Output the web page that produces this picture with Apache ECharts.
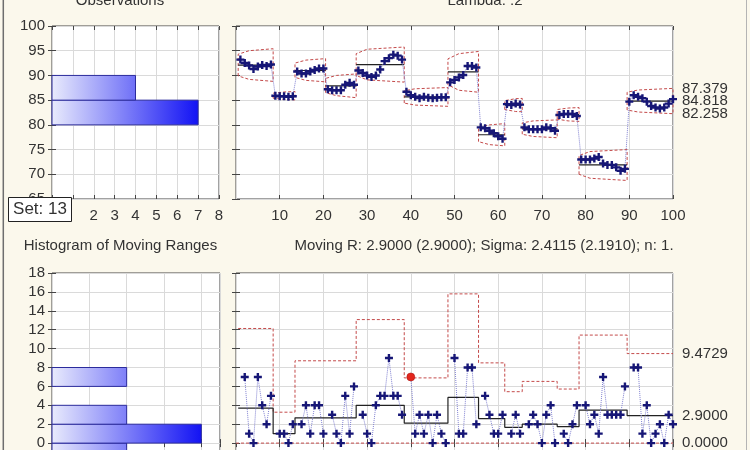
<!DOCTYPE html>
<html><head><meta charset="utf-8">
<script src="https://cdn.jsdelivr.net/npm/echarts@6/dist/echarts.min.js"></script>
<style>html,body{margin:0;padding:0;background:#FBF8EC;overflow:hidden;width:750px;height:450px}#c{width:750px;height:480px}</style>
</head><body><div id="c"></div>
<script>
// ---------------- DATA ----------------
const titleObs = 'Observations';
const titleEwma = 'Lambda: .2';
const titleMrHist = 'Histogram of Moving Ranges';
const titleMr = 'Moving R: 2.9000 (2.9000); Sigma: 2.4115 (2.1910); n: 1.';
const setLabel = 'Set: 13';

const setEnds = [8, 13, 20, 27, 38, 48, 55, 61, 65, 73, 78, 89, 100];

const ewma = [
  93.2, 92.5, 92.0, 91.3, 91.8, 92.1, 91.9, 92.2,
  85.9, 85.8, 85.8, 85.7, 85.8,
  90.8, 90.4, 90.4, 90.8, 91.1, 91.4, 91.4,
  87.2, 87.0, 87.0, 87.0, 88.1, 88.5, 88.1,
  91.0, 90.5, 90.0, 89.7, 90.0, 91.2, 92.9, 93.5, 94.2, 94.0, 93.2,
  86.7, 86.0, 85.7, 85.4, 85.7, 85.5, 85.4, 85.5, 85.6, 85.6,
  88.6, 89.1, 89.6, 90.1, 91.9, 91.9, 91.6,
  79.5, 79.3, 78.8, 78.3, 77.7, 77.2,
  84.2, 84.0, 84.3, 84.1,
  79.5, 79.1, 79.1, 79.1, 79.1, 79.5, 79.3, 78.8,
  82.0, 82.2, 82.2, 82.2, 81.8,
  73.0, 73.0, 73.0, 73.2, 73.5, 72.2, 71.9, 71.9, 71.4, 70.7, 71.1,
  84.7, 86.0, 85.7, 85.4, 84.7, 83.8, 83.5, 83.3, 83.5, 84.3, 85.2
];
const ewmaCL       = [92.1, 85.9, 91.0, 87.9, 92.2, 85.65, 90.7, 78.0, 84.0, 79.2, 82.1, 71.9, 84.818];
const ewmaUclStart = [94.3, 86.4, 92.5, 89.4, 94.4, 86.9, 93.35, 79.5, 84.9, 80.4, 83.1, 73.8, 86.6];
const ewmaUclKnee  = [95.0, 86.65, 93.1, 90.0, 95.3, 87.3, 94.4, 80.0, 85.3, 80.8, 83.4, 74.6, 87.05];
const ewmaUclEnd   = [95.4, 86.75, 93.4, 90.3, 95.75, 87.55, 94.85, 80.25, 85.35, 81.0, 83.5, 75.0, 87.379];
const ewmaLclStart = [89.9, 85.4, 89.6, 86.5, 90.0, 84.4, 88.1, 76.6, 83.1, 78.1, 81.15, 70.0, 83.0];
const ewmaLclKnee  = [89.2, 85.15, 89.0, 85.9, 89.1, 84.0, 87.0, 76.0, 82.7, 77.65, 80.8, 69.2, 82.6];
const ewmaLclEnd   = [88.8, 85.05, 88.7, 85.5, 88.65, 83.75, 86.6, 75.75, 82.65, 77.4, 80.7, 68.75, 82.258];
const ewmaRightLabels = ['87.379', '84.818', '82.258'];

const mrValues = [
  null, 7, 1, 0, 7, 4, 2, 5,
  null, 1, 1, 0, 2,
  null, 2, 4, 1, 4, 4, 1,
  null, 3, 1, 0, 5, 1, 6,
  null, 3, 1, 0, 4, 5, 5, 9, 5, 5, 3,
  null, 7, 1, 3, 1, 3, 0, 3, 1, 0,
  null, 9, 1, 1, 8, 8, 2,
  null, 5, 3, 1, 1, 3,
  null, 1, 3, 1,
  null, 2, 3, 2, 0, 3, 4, 0,
  null, 1, 0, 2, 4,
  null, 4, 2, 3, 1, 7, 3, 3, 3, 3, 6,
  null, 8, 8, 1, 4, 0, 1, 2, 0, 3, 2
];
const mrCL  = [3.71, 1.0, 2.67, 2.67, 4.0, 2.11, 4.83, 2.6, 1.67, 2.0, 1.75, 3.5, 2.9];
const mrUCL = [12.13, 3.27, 8.71, 8.71, 13.07, 6.9, 15.79, 8.49, 5.44, 6.53, 5.72, 11.43, 9.4729];
const mrLCL = 0;
const mrRightLabels = ['9.4729', '2.9000', '0.0000'];

const obsBinLow = [80, 85];
const obsBinWidth = 5;
const obsCounts = [7, 4];
const obsCountTicks = [2, 3, 4, 5, 6, 7, 8];

const mrBinLow = [-2, 0, 2, 4, 6];
const mrBinWidth = 2;
const mrCounts = [2, 4, 2, 0, 2];

// ---------------- STYLE ----------------
const FONT = '"Liberation Sans", Arial, Helvetica, sans-serif';
const TXT = '#333333';
const RED = '#c44a4a';
const PLUS = 'path://M3.5 0H6.5V3.5H10V6.5H6.5V10H3.5V6.5H0V3.5H3.5Z';

function mix(a, b, f) {
  const pa = [1,3,5].map(i => parseInt(a.substr(i,2),16));
  const pb = [1,3,5].map(i => parseInt(b.substr(i,2),16));
  return 'rgb(' + pa.map((v,i) => Math.round(v + (pb[i]-v)*f)).join(',') + ')';
}
function histRender(maxN) {
  return function (params, api) {
    const lo = api.value(0), hi = api.value(1), n = api.value(2);
    if (!n) return null;
    const a = api.coord([0, hi]), b = api.coord([n, lo]);
    return {
      type: 'rect',
      shape: { x: a[0], y: a[1], width: b[0] - a[0], height: b[1] - a[1] },
      style: {
        fill: new echarts.graphic.LinearGradient(0, 0, 1, 0, [
          { offset: 0, color: '#e9ebfc' },
          { offset: 1, color: mix('#e9ebfc', '#1212f4', n / maxN) }
        ]),
        stroke: '#2b2b9c', lineWidth: 1
      }
    };
  };
}

const gridsPx = [
  { left: 52, top: 26, width: 167, height: 173 },
  { left: 236, top: 26, width: 437, height: 173 },
  { left: 52, top: 273, width: 168, height: 189 },
  { left: 236, top: 273, width: 437, height: 189 }
];
const grids = gridsPx.map(g => Object.assign({
  show: true, backgroundColor: '#ffffff', borderColor: '#454545', borderWidth: 1,
  containLabel: false, outerBoundsMode: 'none'
}, g));

const lbl = { color: TXT, fontSize: 15, fontFamily: FONT };
function axis(extra, showLabel, showSplit) {
  return Object.assign({
    type: 'value',
    axisLine: { show: false },
    axisTick: { show: true, inside: true, length: 4, lineStyle: { color: '#454545' } },
    splitLine: { show: showSplit, lineStyle: { color: '#dadada', width: 1 } },
    axisLabel: Object.assign({ show: showLabel }, lbl)
  }, extra);
}
const xRanges = [
  { min: 0, max: 8, interval: 1 },
  { min: 0, max: 100, interval: 10 },
  { min: 0, max: 4.5, interval: 1 },
  { min: 0, max: 100, interval: 10 }
];
const yRanges = [
  { min: 65, max: 100, interval: 5 },
  { min: 65, max: 100, interval: 5 },
  { min: -2, max: 18, interval: 2 },
  { min: -2, max: 18, interval: 2 }
];
const xAxes = [], yAxes = [];
xRanges.forEach((r, i) => {
  const extra = Object.assign({ gridIndex: i, position: 'bottom' }, r);
  const a = axis(extra, i !== 2, true);
  a.axisLabel.margin = 9;
  if (i === 0) a.axisLabel.formatter = v => obsCountTicks.includes(v) ? String(v) : '';
  if (i === 1 || i === 3) a.axisLabel.showMinLabel = false;
  xAxes.push(a);
});
yRanges.forEach((r, i) => {
  const extra = Object.assign({ gridIndex: i, position: 'left' }, r);
  const a = axis(extra, i === 0 || i === 2, true);
  a.axisLabel.margin = 7;
  yAxes.push(a);
});
// mirror axes for ticks on top/right
xRanges.forEach((r, i) => xAxes.push(axis(Object.assign({ gridIndex: i, position: 'top' }, r), false, false)));
yRanges.forEach((r, i) => yAxes.push(axis(Object.assign({ gridIndex: i, position: 'right' }, r), false, false)));

// ---------------- SERIES ----------------
const series = [];
series.push({
  type: 'custom', xAxisIndex: 0, yAxisIndex: 0, renderItem: histRender(Math.max(...obsCounts)),
  encode: { x: 2, y: [0, 1] },
  data: obsBinLow.map((lo, k) => [lo, lo + obsBinWidth, obsCounts[k]]), z: 3
});
series.push({
  type: 'custom', xAxisIndex: 2, yAxisIndex: 2, renderItem: histRender(Math.max(...mrCounts)),
  encode: { x: 2, y: [0, 1] },
  data: mrBinLow.map((lo, k) => [lo, lo + mrBinWidth, mrCounts[k]]), z: 3
});

const dash = { color: RED, width: 1, type: [3, 2] };
const mrUclStep = [], mrClStep = [];
setEnds.forEach((e, k) => {
  const s = k === 0 ? 1 : setEnds[k - 1] + 1;
  const x0 = s - 0.5, xk = Math.min(s + 2, e), x1 = Math.min(e + 0.5, 100);
  series.push({
    type: 'line', xAxisIndex: 1, yAxisIndex: 1, symbol: 'none', silent: true, z: 2,
    lineStyle: dash,
    data: [[x0, ewmaLclStart[k]], [x0, ewmaUclStart[k]], [xk, ewmaUclKnee[k]], [x1, ewmaUclEnd[k]],
           [x1, ewmaLclEnd[k]], [xk, ewmaLclKnee[k]], [x0, ewmaLclStart[k]]]
  });
  series.push({
    type: 'line', xAxisIndex: 1, yAxisIndex: 1, symbol: 'none', silent: true, z: 3,
    lineStyle: { color: '#222222', width: 1.2 },
    data: [[x0, ewmaCL[k]], [x1, ewmaCL[k]]]
  });
  mrUclStep.push([x0, mrUCL[k]], [x1, mrUCL[k]]);
  mrClStep.push([x0, mrCL[k]], [x1, mrCL[k]]);
});

const markLbl = (labels) => ({
  silent: true, symbol: ['none', 'none'], animation: false,
  lineStyle: { color: 'rgba(0,0,0,0)', width: 0 },
  label: { show: true, position: 'end', distance: 9, color: TXT, fontSize: 15, fontFamily: FONT },
  data: labels.map(t => ({ yAxis: parseFloat(t), label: { formatter: t } }))
});

series.push({
  type: 'line', xAxisIndex: 1, yAxisIndex: 1, z: 5,
  symbol: PLUS, symbolSize: 8, showAllSymbol: true,
  itemStyle: { color: '#161676' },
  lineStyle: { color: '#8282d2', width: 1, type: 'dotted' },
  data: ewma.map((v, i) => [i + 1, v]),
  markLine: markLbl(ewmaRightLabels)
});

series.push({
  type: 'line', xAxisIndex: 3, yAxisIndex: 3, symbol: 'none', silent: true, z: 2,
  lineStyle: dash, data: mrUclStep
});
series.push({
  type: 'line', xAxisIndex: 3, yAxisIndex: 3, symbol: 'none', silent: true, z: 2,
  lineStyle: dash, data: [[0, mrLCL], [100, mrLCL]]
});
series.push({
  type: 'line', xAxisIndex: 3, yAxisIndex: 3, symbol: 'none', silent: true, z: 3,
  lineStyle: { color: '#222222', width: 1.2 }, data: mrClStep
});

function setOf(i) { return setEnds.findIndex(e => i <= e); }
series.push({
  type: 'line', xAxisIndex: 3, yAxisIndex: 3, z: 5, connectNulls: false,
  symbol: PLUS, symbolSize: 8, showAllSymbol: true,
  itemStyle: { color: '#161676' },
  lineStyle: { color: '#8282d2', width: 1, type: 'dotted' },
  data: mrValues.map((v, i) => {
    if (v === null) return [i + 1, '-'];
    const k = setOf(i + 1);
    if (v > mrUCL[k]) return { value: [i + 1, v], symbol: 'circle', symbolSize: 8, itemStyle: { color: '#e3261c', borderColor: '#a01010', borderWidth: 0.5 } };
    return [i + 1, v];
  }),
  markLine: markLbl(mrRightLabels)
});

// ---------------- GRAPHICS ----------------
const tfont = '15px ' + FONT;
function txt(text, x, y, font) {
  return { type: 'text', x: x, y: y, z: 100,
    style: { text: text, fill: TXT, font: font || tfont, textAlign: 'center', textVerticalAlign: 'middle', align: 'center', verticalAlign: 'middle' } };
}
const graphic = [
  txt(titleObs, 120, 0.5),
  txt(titleEwma, 485, 0.5),
  txt(titleMrHist, 120.5, 245.5),
  txt(titleMr, 484, 245.5),
  { type: 'rect', z: 100, shape: { x: 8.5, y: 197.5, width: 63, height: 24 }, style: { fill: '#ffffff', stroke: '#222222', lineWidth: 1 } },
  txt(setLabel, 40, 209.5, '17px ' + FONT),
  { type: 'line', z: 100, shape: { x1: 3.3, y1: 0, x2: 3.3, y2: 480 }, style: { stroke: '#6e6e6e', lineWidth: 1.5 } },
  { type: 'line', z: 100, shape: { x1: 746.5, y1: 0, x2: 746.5, y2: 480 }, style: { stroke: '#b4b4b4', lineWidth: 1 } }
];

const chart = echarts.init(document.getElementById('c'), null, { renderer: 'canvas' });
chart.setOption({
  animation: false,
  backgroundColor: '#FBF8EC',
  textStyle: { fontFamily: FONT },
  grid: grids,
  xAxis: xAxes,
  yAxis: yAxes,
  series: series,
  graphic: graphic
});
</script>
</body></html>
